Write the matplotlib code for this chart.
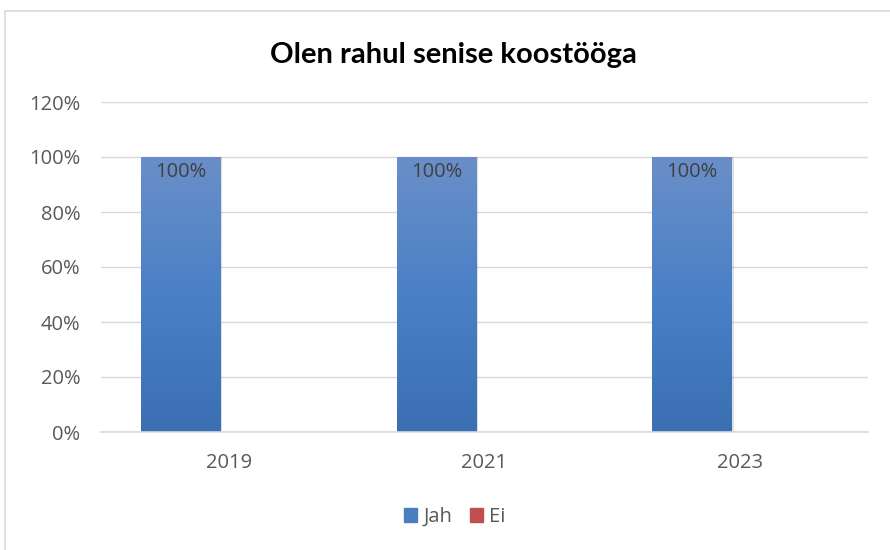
import matplotlib
matplotlib.use("Agg")
import matplotlib.pyplot as plt
import numpy as np
from matplotlib.patches import Rectangle
from matplotlib.colors import LinearSegmentedColormap

years = ["2019", "2021", "2023"]
jah = [1.0, 1.0, 1.0]
ei = [0.0, 0.0, 0.0]
yticks = [0, 0.2, 0.4, 0.6, 0.8, 1.0, 1.2]
title = "Olen rahul senise koostööga"

plt.rcParams['font.family'] = ['Lato', 'DejaVu Sans']
FS = 14.5
OPEN = ['Open Sans', 'DejaVu Sans']

fig = plt.figure(figsize=(8.9, 5.5), dpi=100)
fig.patches.append(Rectangle((5/890, -0.1), 1.2, 1 - 11/550 + 0.1, transform=fig.transFigure,
                             fill=False, edgecolor='#d9d9d9', linewidth=1.2))
ax = fig.add_axes([101/890, 1 - 432/550, (868 - 101)/890, (432 - 102)/550])

x = np.arange(len(years))
w = 80 / 255.7
off = 48 / 255.7

grad = LinearSegmentedColormap.from_list('g', ['#3a6fb3', '#4a80c6', '#6a8fc8'])
bars_j = ax.bar(x - off, jah, w, color='#4a7ebf', zorder=2)
bars_e = ax.bar(x + off, ei, w, color='#c0504d', zorder=2)

for b in bars_j:
    x0, y0 = b.get_x(), b.get_y()
    x1, y1 = x0 + b.get_width(), y0 + b.get_height()
    sh = Rectangle((x0 + 0.006, y0), b.get_width(), b.get_height(), facecolor='#000000',
                   alpha=0.12, zorder=1.5, linewidth=0)
    ax.add_patch(sh)
    img = ax.imshow(np.linspace(0, 1, 256).reshape(-1, 1), cmap=grad, aspect='auto',
                    extent=(x0, x1, y0, y1), origin='lower', zorder=2.5)
    img.set_clip_path(b)
    ax.text(x0 + b.get_width() / 2, y1 - 0.018, f"{int(round(b.get_height()*100))}%",
            ha='center', va='top', fontsize=FS, color='#404040', zorder=3,
            fontfamily=OPEN)

ax.set_xlim(-0.5, len(years) - 0.5)
ax.set_ylim(0, 1.2)
ax.set_yticks(yticks)
ax.set_yticklabels([f"{int(round(t*100))}%" for t in yticks])
ax.set_xticks(x)
ax.set_xticklabels(years)
ax.tick_params(axis='both', length=0, labelsize=FS, labelcolor='#595959')
for lbl in ax.get_xticklabels() + ax.get_yticklabels():
    lbl.set_fontfamily(OPEN)
ax.tick_params(axis='x', pad=15)
ax.tick_params(axis='y', pad=15)
ax.grid(axis='y', color='#d9d9d9', linewidth=1, zorder=0)
ax.set_axisbelow(True)
for s in ['top', 'right', 'left']:
    ax.spines[s].set_visible(False)
ax.spines['bottom'].set_color('#d9d9d9')
ax.spines['bottom'].set_linewidth(1.2)

fig.text(453/890, 1 - 55/550, title, ha='center', va='center', fontsize=21,
         fontweight='bold', color='#000000')

handles = [Rectangle((0, 0), 1, 1, color='#4a7ebf'), Rectangle((0, 0), 1, 1, color='#c0504d')]
leg = fig.legend(handles, ['Jah', 'Ei'], loc='center', bbox_to_anchor=(455/890, 1 - 517/550),
                 ncol=2, frameon=False, handlelength=0.65, handleheight=0.65,
                 handletextpad=0.3, columnspacing=0.9,
                 prop={'family': OPEN, 'size': FS})
for t in leg.get_texts():
    t.set_color('#595959')

fig.savefig("out.png", dpi=100)
